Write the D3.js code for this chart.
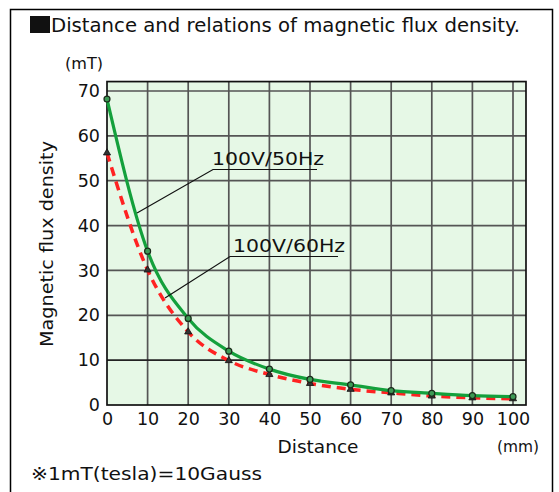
<!DOCTYPE html>
<html>
<head>
<meta charset="utf-8">
<script src="https://cdn.jsdelivr.net/npm/d3@7"></script>
<style>
  body { margin: 0; background: #fff; }
  text { font-family: "DejaVu Sans", sans-serif; fill: #111; }
</style>
</head>
<body>
<svg width="559" height="492"></svg>
<script>
// values
var distance = [0, 10, 20, 30, 40, 50, 60, 70, 80, 90, 100];
var flux50 = [68.2, 34.3, 19.3, 12.0, 8.0, 5.7, 4.5, 3.2, 2.6, 2.1, 1.85];
var flux60 = [56.2, 30.1, 16.3, 9.9, 6.8, 4.8, 3.5, 2.7, 2.0, 1.6, 1.4];
var xTicks = [0, 10, 20, 30, 40, 50, 60, 70, 80, 90, 100];
var yTicks = [0, 10, 20, 30, 40, 50, 60, 70];
var seriesNames = ["100V/50Hz", "100V/60Hz"];

var green = "#14a03c", red = "#ff2222";

var svg = d3.select("svg");

// outer frame (open at the bottom like the clipped original)
svg.append("path")
  .attr("d", "M10.5,500V9.5H552.5V500")
  .attr("fill", "none").attr("stroke", "#000").attr("stroke-width", 1.5);

// title
svg.append("rect").attr("x", 30).attr("y", 16).attr("width", 20).attr("height", 17).attr("fill", "#111");
svg.append("text").attr("x", 51).attr("y", 32)
  .attr("font-size", 19).attr("textLength", 469).attr("lengthAdjust", "spacingAndGlyphs")
  .text("Distance and relations of magnetic flux density.");

// scales
var x = d3.scaleLinear().domain([0, 100]).range([107, 513]);
var y = d3.scaleLinear().domain([0, 70]).range([405, 91]);
var xEnd = 103.2, yEnd = 72.1;   // plot box runs a little past the last ticks

// plot background
svg.append("rect")
  .attr("x", x(0)).attr("y", y(yEnd))
  .attr("width", x(xEnd) - x(0)).attr("height", y(0) - y(yEnd))
  .attr("fill", "#e6f8e6");

// grid
svg.append("g").selectAll("line").data(xTicks.filter(d => d > 0)).join("line")
  .attr("x1", d => x(d)).attr("x2", d => x(d))
  .attr("y1", y(0)).attr("y2", y(yEnd))
  .attr("stroke", "#555").attr("stroke-width", 1.7);
svg.append("g").selectAll("line").data(yTicks.filter(d => d > 0)).join("line")
  .attr("x1", x(0)).attr("x2", x(xEnd))
  .attr("y1", d => y(d)).attr("y2", d => y(d))
  .attr("stroke", d => d == 10 ? "#222" : "#555").attr("stroke-width", 1.7);

// box
svg.append("rect")
  .attr("x", x(0)).attr("y", y(yEnd))
  .attr("width", x(xEnd) - x(0)).attr("height", y(0) - y(yEnd))
  .attr("fill", "none").attr("stroke", "#111").attr("stroke-width", 1.7);

// axes (labels only)
var gx = svg.append("g").attr("transform", "translate(0," + y(0) + ")")
  .call(d3.axisBottom(x).tickValues(xTicks).tickSize(0).tickPadding(8));
var gy = svg.append("g").attr("transform", "translate(" + x(0) + ",0)")
  .call(d3.axisLeft(y).tickValues(yTicks).tickSize(0).tickPadding(7));
[gx, gy].forEach(function(g) {
  g.select(".domain").remove();
  g.attr("font-family", "DejaVu Sans").attr("font-size", 17.5);
  g.selectAll("text").attr("fill", "#111");
});

// curves
var line = d3.line().curve(d3.curveMonotoneX);
var pts50 = distance.map((d, i) => [x(d), y(flux50[i])]);
var pts60 = distance.map((d, i) => [x(d), y(flux60[i])]);

svg.append("path").attr("d", line(pts60))
  .attr("fill", "none").attr("stroke", red).attr("stroke-width", 3.5)
  .attr("stroke-dasharray", "9,6");
svg.append("path").attr("d", line(pts50))
  .attr("fill", "none").attr("stroke", green).attr("stroke-width", 3.2);

svg.append("g").selectAll("path").data(pts60).join("path")
  .attr("transform", d => "translate(" + d[0] + "," + d[1] + ")")
  .attr("d", d3.symbol(d3.symbolTriangle, 22))
  .attr("fill", "#333").attr("stroke", "#111").attr("stroke-width", 0.8);
svg.append("g").selectAll("circle").data(pts50).join("circle")
  .attr("cx", d => d[0]).attr("cy", d => d[1]).attr("r", 3)
  .attr("fill", "#3d9a55").attr("stroke", "#1a2a1a").attr("stroke-width", 1.2);

// callouts
function callout(name, from, elbow, uEnd, tx, ty) {
  svg.append("path")
    .attr("d", "M" + from + "L" + elbow + "H" + uEnd)
    .attr("fill", "none").attr("stroke", "#111").attr("stroke-width", 1.2);
  svg.append("text").attr("x", tx).attr("y", ty)
    .attr("font-size", 18).attr("textLength", 112).attr("lengthAdjust", "spacingAndGlyphs")
    .text(name);
}
callout(seriesNames[0], [137, 213], [213, 169.5], 317, 212, 165);
callout(seriesNames[1], [165, 298], [230, 256.5], 338, 233, 252);

// axis titles
svg.append("text").attr("x", 65).attr("y", 69).attr("font-size", 15)
  .attr("textLength", 38).attr("lengthAdjust", "spacingAndGlyphs").text("(mT)");
svg.append("text").attr("transform", "translate(53,244) rotate(-90)")
  .attr("text-anchor", "middle").attr("font-size", 18)
  .attr("textLength", 206).attr("lengthAdjust", "spacingAndGlyphs")
  .text("Magnetic flux density");
svg.append("text").attr("x", 318).attr("y", 453).attr("text-anchor", "middle")
  .attr("font-size", 18.5).text("Distance");
svg.append("text").attr("x", 497).attr("y", 452).attr("font-size", 15)
  .attr("textLength", 42).attr("lengthAdjust", "spacingAndGlyphs").text("(mm)");

// footnote
svg.append("text").attr("x", 31).attr("y", 480).attr("font-size", 18.5)
  .attr("textLength", 231).attr("lengthAdjust", "spacingAndGlyphs")
  .text("※1mT(tesla)=10Gauss");
</script>
</body>
</html>
